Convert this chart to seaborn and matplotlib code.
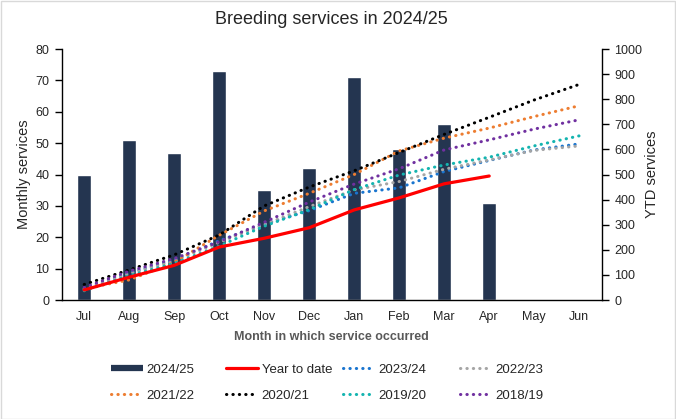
"""Breeding services chart: monthly bars with YTD lines on a second axis."""

import numpy as np
import pandas as pd
import matplotlib
matplotlib.use("Agg")
import matplotlib.pyplot as plt
from matplotlib.lines import Line2D
from matplotlib.patches import Rectangle
import seaborn as sns

sns.set_style("white")
plt.rcParams['font.family'] = ['Liberation Sans', 'DejaVu Sans']

# Data
months = ['Jul', 'Aug', 'Sep', 'Oct', 'Nov', 'Dec', 'Jan', 'Feb', 'Mar', 'Apr', 'May', 'Jun']
monthly_2425 = [40, 51, 47, 73, 35, 42, 71, 48, 56, 31, np.nan, np.nan]
ytd_2425 = [40, 91, 138, 211, 246, 288, 359, 407, 463, 494, np.nan, np.nan]
ytd_2324 = [45, 108, 160, 236, 302, 356, 425, 447, 512, 556, 598, 622]
ytd_2223 = [42, 105, 155, 230, 300, 372, 439, 472, 521, 558, 596, 614]
ytd_2122 = [45, 80, 150, 258, 355, 425, 500, 594, 645, 685, 731, 774]
ytd_2021 = [62, 120, 180, 259, 375, 450, 515, 588, 660, 728, 797, 859]
ytd_1920 = [37, 97, 146, 215, 294, 360, 440, 498, 538, 569, 614, 654]
ytd_1819 = [50, 115, 165, 232, 310, 390, 462, 523, 598, 638, 681, 718]

bar_color = '#243550'
dotted_series = [
    ('2023/24', ytd_2324, '#1A75CF'),
    ('2022/23', ytd_2223, '#A5A5A5'),
    ('2021/22', ytd_2122, '#ED7D31'),
    ('2020/21', ytd_2021, '#000000'),
    ('2019/20', ytd_1920, '#14B4B0'),
    ('2018/19', ytd_1819, '#7030A0'),
]

df = pd.DataFrame({'month': months, 'monthly': monthly_2425, 'pos': np.arange(len(months))})

fig = plt.figure(figsize=(6.76, 4.19), dpi=100)
ax = fig.add_axes([0.0913, 0.284, 0.7988, 0.599])
ax2 = ax.twinx()

sns.barplot(data=df, x='month', y='monthly', order=months, color=bar_color,
            saturation=1, width=0.31, ax=ax)

dot_style = (0, (0.1, 2.0))
for label, vals, col in dotted_series:
    sns.lineplot(x=df['pos'], y=vals, ax=ax2, color=col, linewidth=2.2,
                 linestyle=dot_style, dash_capstyle='round')
sns.lineplot(x=df['pos'], y=ytd_2425, ax=ax2, color='#FF0000', linewidth=2.3)

# Axes formatting
ax.set_xlim(-0.5, len(months) - 0.5)
ax.set_ylim(0, 80)
ax.set_yticks(range(0, 81, 10))
ax2.set_ylim(0, 1000)
ax2.set_yticks(range(0, 1001, 100))

ax.set_xticks(range(len(months)))
ax.set_xticklabels(months)
ax.set_xticks(np.arange(-0.5, len(months), 1), minor=True)
ax.tick_params(axis='x', which='major', length=0, pad=8, labelsize=9)
ax.tick_params(axis='x', which='minor', length=5, width=1, direction='out', color='black')
ax.tick_params(axis='y', length=5, width=1, direction='out', color='black', labelsize=9, pad=4)
ax2.tick_params(axis='y', length=5, width=1, direction='out', color='black', labelsize=9, pad=4)

for a in (ax, ax2):
    a.spines['top'].set_visible(False)
    for s in ('left', 'right', 'bottom'):
        a.spines[s].set_color('black')
        a.spines[s].set_linewidth(1)
ax.spines['right'].set_visible(False)
ax2.spines['left'].set_visible(False)
ax2.spines['bottom'].set_visible(False)

ax.set_ylabel('Monthly services', fontsize=10.5, labelpad=3)
ax2.set_ylabel('YTD services', fontsize=10.5, labelpad=2)
ax.set_xlabel('Month in which service occurred', fontsize=9, fontweight='bold',
              color='#595959', labelpad=6)
ax2.set_xlabel('')
ax.set_title('Breeding services in 2024/25', fontsize=13, pad=18)
ax.grid(False)
ax2.grid(False)

# Legend: four columns of two entries, placed like the original
handles = [
    Line2D([], [], color=bar_color, lw=4.5, solid_capstyle='butt'),
    Line2D([], [], color='#FF0000', lw=2.3),
]
labels = ['2024/25', 'Year to date']
for label, vals, col in dotted_series:
    handles.append(Line2D([], [], color=col, lw=2.2, linestyle=dot_style, dash_capstyle='round'))
    labels.append(label)

col_x = [111, 226, 343, 460]
for c, x in enumerate(col_x):
    idx = [c, c + 4]
    fig.legend([handles[i] for i in idx], [labels[i] for i in idx],
               loc='upper left', bbox_to_anchor=(x / 676, 0.133), frameon=False,
               fontsize=9.5, handlelength=2.4, handletextpad=0.3,
               labelspacing=1.05, borderpad=0, borderaxespad=0)

# light chart border
fig.patches.append(Rectangle((0.5 / 676, 0.5 / 419), 1 - 1.5 / 676, 1 - 1.5 / 419,
                             transform=fig.transFigure, fill=False,
                             edgecolor='#D9D9D9', linewidth=1))

plt.savefig('out.png', dpi=100)
plt.close()
